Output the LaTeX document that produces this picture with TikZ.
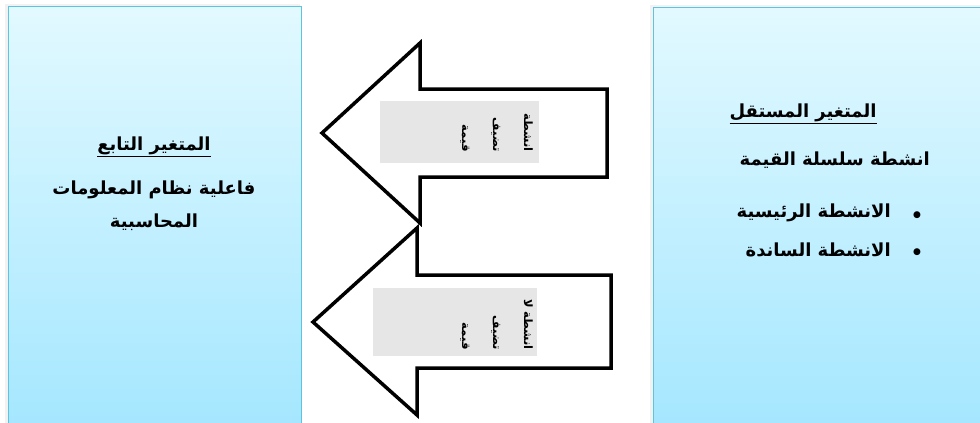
\documentclass[tikz,border=0pt]{standalone}
\usepackage{fontspec}
\TeXXeTstate=1
\newfontfamily\arabicfont[Script=Arabic]{DejaVu Sans}
\newfontfamily\symfont{DejaVu Sans}
\definecolor{boxtop}{HTML}{E2F9FF}
\definecolor{boxbot}{HTML}{A2E6FF}
\definecolor{boxline}{HTML}{5EC3DE}
\definecolor{greyfill}{HTML}{E6E6E6}
\tikzset{
  varbox/.style={draw=boxline, line width=1.2pt, top color=boxtop, bottom color=boxbot, inner sep=0pt},
  blockarrow/.style={draw=black, line width=3.5pt, fill=white, line join=miter},
  greybox/.style={fill=greyfill, draw=none},
  artext/.style={font=\arabicfont\bfseries\fontsize{18}{22}\selectfont, inner sep=1pt},
  vtext/.style={font=\arabicfont\bfseries\fontsize{11.5}{31}\selectfont, rotate=-90, align=right, inner sep=0pt},
  bulletdot/.style={font=\symfont\fontsize{9}{9}\selectfont, inner sep=0pt},
}
\begin{document}
\begin{tikzpicture}[x=1pt,y=-1pt]
\useasboundingbox (0,0) rectangle (980,423);
\clip (0,0) rectangle (980,423);
% shadows
\fill[black!5] (5,4) rectangle (300,450);
\fill[black!5] (650,5) rectangle (990,450);
% boxes
\node[varbox, minimum width=293pt, minimum height=440pt, anchor=north west] (L) at (8,6) {};
\node[varbox, minimum width=340pt, minimum height=440pt, anchor=north west] (R) at (653,7) {};
% arrows
\filldraw[blockarrow] (322,133) -- (420,43) -- (420,89) -- (607,89) -- (607,177) -- (420,177) -- (420,223) -- cycle;
\filldraw[blockarrow] (313,322) -- (417,228) -- (417,275) -- (611,275) -- (611,368) -- (417,368) -- (417,415) -- cycle;
\fill[greybox] (380,101) rectangle (539,163);
\fill[greybox] (373,288) rectangle (537,356);
% vertical texts
\node[vtext, anchor=north east] (a1) at (533,152) {\beginR انشطة\endR\\\beginR تضيف\endR\\\beginR قيمة\endR};
\node[vtext, anchor=north east] (a2) at (533,350) {\beginR انشطة لا\endR\\\beginR تضيف\endR\\\beginR قيمة\endR};
% left box text
\node[artext] (lt) at (154,147) {\underline{\beginR المتغير التابع\endR}};
\node[artext] (l1) at (154,190) {\beginR فاعلية نظام المعلومات\endR};
\node[artext] (l2) at (154,222) {\beginR المحاسبية\endR};
% right box text
\node[artext] (rt) at (803,114) {\underline{\beginR المتغير المستقل\endR}};
\node[artext, anchor=east] (r1) at (931,160) {\beginR انشطة سلسلة القيمة\endR};
\node[artext, anchor=east] (b1) at (892,213) {\beginR الانشطة الرئيسية\endR};
\node[artext, anchor=east] (b2) at (892,250) {\beginR الانشطة الساندة\endR};
\node[bulletdot] (d1) at (917,215) {●};
\node[bulletdot] (d2) at (917,252) {●};
\end{tikzpicture}
\end{document}
